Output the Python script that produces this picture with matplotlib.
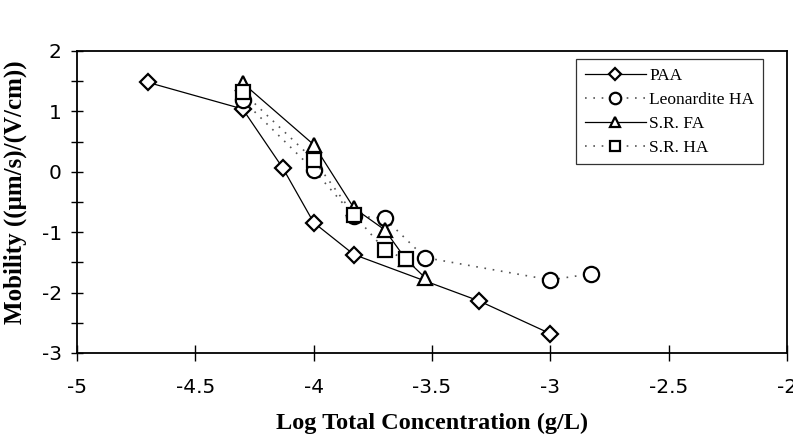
import matplotlib
matplotlib.use('Agg')
import matplotlib.pyplot as plt
from matplotlib.ticker import MultipleLocator

plt.rcParams['axes.unicode_minus'] = False

# data
paa_x = [-4.70, -4.30, -4.13, -4.00, -3.83, -3.30, -3.00]
paa_y = [1.48, 1.04, 0.06, -0.84, -1.37, -2.14, -2.68]

leo_x = [-4.30, -4.00, -3.83, -3.70, -3.53, -3.00, -2.83]
leo_y = [1.19, 0.03, -0.73, -0.77, -1.42, -1.79, -1.69]

srfa_x = [-4.30, -4.00, -3.83, -3.70, -3.61, -3.53]
srfa_y = [1.47, 0.45, -0.60, -0.96, -1.45, -1.75]

srha_x = [-4.30, -4.00, -3.83, -3.70, -3.61]
srha_y = [1.32, 0.20, -0.71, -1.29, -1.45]

xticks = [-5, -4.5, -4, -3.5, -3, -2.5, -2]
xtick_labels = ['-5', '-4.5', '-4', '-3.5', '-3', '-2.5', '-2']
yticks = [-3, -2, -1, 0, 1, 2]

fig = plt.figure(figsize=(7.93, 4.34), dpi=100)
ax = fig.add_axes([77 / 793, 1 - 353 / 434, 710 / 793, 302 / 434])

mk = dict(markerfacecolor='white', markeredgecolor='black', markeredgewidth=1.6)
dots = (0, (1, 4))

ax.plot(paa_x, paa_y, color='black', lw=0.9, marker='D', ms=8, label='PAA', **mk)
ax.plot(leo_x, leo_y, color='#555555', lw=1.2, ls=dots, marker='o', ms=11,
        label='Leonardite HA', **mk)
ax.plot(srfa_x, srfa_y, color='black', lw=0.9, marker='^', ms=10, label='S.R. FA', **mk)
ax.plot(srha_x, srha_y, color='#555555', lw=1.2, ls=dots, marker='s', ms=9.5,
        label='S.R. HA', **mk)

ax.set_xlim(-5, -2)
ax.set_ylim(-3, 2)
ax.set_xticks(xticks)
ax.set_xticklabels(xtick_labels)
ax.set_yticks(yticks)
ax.yaxis.set_minor_locator(MultipleLocator(0.5))
ax.tick_params(axis='x', which='both', direction='inout', length=12, width=1,
               top=False, labelsize=14.5, pad=12)
ax.tick_params(axis='y', which='both', direction='inout', length=8, width=1,
               right=False, labelsize=14.5, pad=7)
for s in ax.spines.values():
    s.set_linewidth(1.3)

fig.text(432 / 793, 5 / 434, 'Log Total Concentration (g/L)', family='Liberation Serif',
         fontweight='bold', fontsize=17.5, ha='center', va='baseline')
fig.text(15 / 793, 1 - 192 / 434, 'Mobility ((\u03bcm/s)/(V/cm))', family='Liberation Serif',
         fontweight='bold', fontsize=18, rotation=90, ha='center', va='center')

leg = ax.legend(loc='upper right', bbox_to_anchor=(0.966, 0.974), borderaxespad=0,
                prop={'family': 'Liberation Serif', 'size': 12.5},
                frameon=True, fancybox=False, edgecolor='black',
                handlelength=3.5, labelspacing=0.45, borderpad=0.5,
                handletextpad=0.2, markerscale=0.75)
leg.get_frame().set_linewidth(0.9)

fig.savefig('out.png', dpi=100)
